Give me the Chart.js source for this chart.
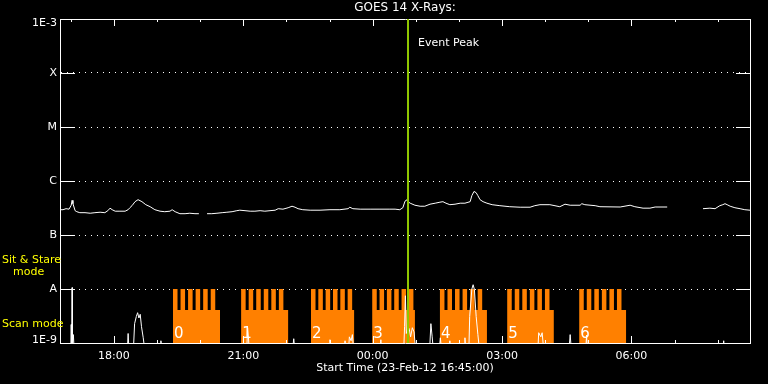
<!DOCTYPE html>
<html>
<head>
<meta charset="utf-8">
<title>GOES 14 X-Rays</title>
<script src="https://cdn.jsdelivr.net/npm/chart.js@4.4.1/dist/chart.umd.min.js"></script>
<style>
  html, body { margin: 0; padding: 0; background: #000; }
  #wrap { width: 768px; height: 384px; }
</style>
</head>
<body>
<div id="wrap"><canvas id="goes-chart" width="768" height="384"></canvas></div>
<script>
// GOES 14 X-ray flux with the scan / sit & stare blocks underneath

// Time is in hours from 00:00 on 23-Feb-12 (values over 24 are on 24-Feb)
const timeMin = 16.75;
const timeMax = 32.75;

// Axis ticks
const xTickHours = [18, 21, 24, 27, 30];
const xMinorHours = [17, 19, 20, 22, 23, 25, 26, 28, 29, 31, 32];
const yTickValues = [1e-9, 1e-8, 1e-7, 1e-6, 1e-5, 1e-4, 1e-3];
const yTickLabels = ['1E-9', 'A', 'B', 'C', 'M', 'X', '1E-3'];

// Long channel (upper white curve), null marks a data gap
const goesTime = [
    16.75, 16.82, 16.89, 16.96, 17.01, 17.03, 17.05, 17.10, 17.14, 17.21,
    17.33, 17.45, 17.56, 17.68, 17.79, 17.86, 17.91, 17.96, 18.03, 18.14,
    18.26, 18.33, 18.37, 18.42, 18.49, 18.56, 18.65, 18.74, 18.84, 18.95,
    19.07, 19.18, 19.30, 19.35, 19.42, 19.53, 19.65, 19.76, 19.88, 19.97,
    20.06, 20.16, 20.27, 20.39, 20.51, 20.62, 20.74, 20.85, 20.92, 21.04,
    21.16, 21.27, 21.39, 21.50, 21.62, 21.74, 21.81, 21.92, 22.04, 22.13,
    22.20, 22.27, 22.38, 22.55, 22.78, 23.01, 23.24, 23.43, 23.47, 23.54,
    23.71, 23.94, 24.17, 24.40, 24.52, 24.63, 24.70, 24.75, 24.80, 24.82,
    24.87, 24.98, 25.10, 25.21, 25.33, 25.45, 25.56, 25.63, 25.70, 25.79,
    25.91, 26.03, 26.14, 26.26, 26.30, 26.35, 26.40, 26.44, 26.49, 26.56,
    26.65, 26.77, 26.95, 27.18, 27.42, 27.65, 27.76, 27.88, 28.11, 28.34,
    28.46, 28.58, 28.81, 28.85, 28.92, 29.16, 29.27, 29.74, 29.97, 30.08,
    30.27, 30.43, 30.55, 30.83, 31.20, 31.66, 31.82, 31.94, 32.05, 32.12,
    32.17, 32.22, 32.29, 32.40, 32.52, 32.63, 32.75
];
const goesFlux = [
    2.94e-7, 2.94e-7, 3.07e-7, 3.01e-7, 3.56e-7, 4.38e-7, 3.80e-7, 2.82e-7, 2.70e-7, 2.59e-7,
    2.59e-7, 2.53e-7, 2.59e-7, 2.64e-7, 2.59e-7, 2.82e-7, 3.14e-7, 2.94e-7, 2.76e-7, 2.76e-7,
    2.76e-7, 2.94e-7, 3.20e-7, 3.49e-7, 4.14e-7, 4.51e-7, 4.14e-7, 3.64e-7, 3.34e-7, 2.94e-7,
    2.76e-7, 2.70e-7, 2.76e-7, 2.94e-7, 2.70e-7, 2.48e-7, 2.48e-7, 2.53e-7, 2.48e-7, 2.48e-7,
    null,    2.48e-7, 2.48e-7, 2.53e-7, 2.59e-7, 2.64e-7, 2.70e-7, 2.82e-7, 2.88e-7, 2.82e-7,
    2.76e-7, 2.76e-7, 2.82e-7, 2.76e-7, 2.82e-7, 2.88e-7, 3.07e-7, 3.01e-7, 3.20e-7, 3.41e-7,
    3.27e-7, 3.07e-7, 2.94e-7, 2.88e-7, 2.88e-7, 2.94e-7, 2.94e-7, 3.07e-7, 3.27e-7, 3.07e-7,
    3.01e-7, 3.01e-7, 3.01e-7, 3.01e-7, 3.01e-7, 2.94e-7, 3.20e-7, 4.23e-7, 4.51e-7, 4.14e-7,
    3.88e-7, 3.56e-7, 3.41e-7, 3.41e-7, 3.72e-7, 3.88e-7, 4.05e-7, 4.14e-7, 3.88e-7, 3.64e-7,
    3.72e-7, 3.88e-7, 3.88e-7, 4.14e-7, 5.35e-7, 6.41e-7, 6.07e-7, 5.35e-7, 4.51e-7, 4.14e-7,
    3.88e-7, 3.64e-7, 3.49e-7, 3.34e-7, 3.27e-7, 3.27e-7, 3.49e-7, 3.64e-7, 3.64e-7, 3.34e-7,
    3.72e-7, 3.56e-7, 3.56e-7, 3.80e-7, 3.64e-7, 3.49e-7, 3.34e-7, 3.30e-7, 3.56e-7, 3.34e-7,
    3.14e-7, 3.14e-7, 3.30e-7, 3.30e-7, null,    3.07e-7, 3.14e-7, 3.07e-7, 3.49e-7, 3.64e-7,
    3.80e-7, 3.64e-7, 3.41e-7, 3.20e-7, 3.07e-7, 2.94e-7, 2.88e-7
];

// Short channel (spiky curve near the floor), mostly below 1E-9
const shortTime = [
    16.75, 17.00, 17.01, 17.02, 17.03, 17.04, 17.06, 17.08, 18.31, 18.33,
    18.35, 18.45, 18.48, 18.52, 18.55, 18.58, 18.61, 18.64, 18.68, 18.72,
    19.07, 19.09, 19.11, 21.08, 21.10, 21.12, 21.14, 22.14, 22.17, 22.20,
    22.99, 23.01, 23.03, 23.33, 23.36, 23.39, 23.44, 23.46, 23.50, 23.53,
    23.56, 24.17, 24.19, 24.21, 24.72, 24.74, 24.76, 24.78, 24.82, 24.85,
    24.88, 24.92, 24.96, 25.00, 25.32, 25.35, 25.38, 25.41, 25.54, 25.57,
    25.60, 25.77, 25.79, 25.81, 26.12, 26.14, 26.16, 26.23, 26.25, 26.30,
    26.33, 26.36, 26.40, 26.44, 26.48, 27.83, 27.85, 27.90, 27.93, 27.97,
    28.55, 28.58, 28.61, 28.94, 28.96, 28.98, 32.12, 32.14, 32.16, 32.75
];
const shortFlux = [
    7e-10,   7e-10,   2.2e-9,  8e-10,   1.06e-8, 9e-10,   1.43e-9, 7e-10,   7e-10,   1.5e-9,
    7e-10,   7e-10,   2.28e-9, 3.1e-9,  3.64e-9, 2.9e-9,  3.4e-9,  2.0e-9,  1.25e-9, 7e-10,
    7e-10,   1.1e-9,  7e-10,   7e-10,   1.92e-9, 1.25e-9, 7e-10,   7e-10,   1.2e-9,  7e-10,
    7e-10,   1.15e-9, 7e-10,   7e-10,   1.1e-9,  7e-10,   7e-10,   1.3e-9,  1.1e-9,  1.43e-9,
    7e-10,   7e-10,   1.15e-9, 7e-10,   7e-10,   2.0e-9,  7.5e-9,  1.5e-9,  2.0e-9,  1.8e-9,
    1.3e-9,  1.92e-9, 1.6e-9,  7e-10,   7e-10,   2.28e-9, 1.3e-9,  7e-10,   7e-10,   1.25e-9,
    7e-10,   7e-10,   1.1e-9,  7e-10,   7e-10,   1.25e-9, 7e-10,   7e-10,   3.1e-9,  1.0e-8,
    1.2e-8,  9.7e-9,  3.1e-9,  1.43e-9, 7e-10,   7e-10,   1.55e-9, 1.3e-9,  1.55e-9, 7e-10,
    7e-10,   1.43e-9, 7e-10,   7e-10,   1.4e-9,  7e-10,   7e-10,   1.1e-9,  7e-10,   7e-10
];

// Scan blocks: start/end of each block and the start of each sit & stare tooth
const scanLabels = ['0', '1', '2', '3', '4', '5', '6'];
const scanStart = [19.37, 20.95, 22.57, 23.99, 25.56, 27.12, 28.79];
const scanEnd = [20.46, 22.04, 23.57, 24.98, 26.65, 28.20, 29.88];
const scanTeeth = [
    [19.37, 19.545, 19.72, 19.895, 20.07, 20.245],
    [20.95, 21.125, 21.30, 21.475, 21.65, 21.825],
    [22.57, 22.74, 22.91, 23.08, 23.25, 23.42],
    [23.99, 24.16, 24.33, 24.50, 24.67, 24.84],
    [25.56, 25.735, 25.91, 26.085, 26.26, 26.435],
    [27.12, 27.295, 27.47, 27.645, 27.82, 27.995],
    [28.79, 28.965, 29.14, 29.315, 29.49, 29.665]
];
const toothLength = 0.105;
const sitStareLevel = 1e-8;
const scanLevel = 4.1e-9;

const eventPeakTime = 24.82;

// Helpers
function toPoints(times, values) {
    return times.map((t, i) => ({ x: t, y: values[i] }));
}

// each point's level holds until the next point (stepped: 'before')
function buildScanPoints() {
    const points = [];
    scanStart.forEach((start, i) => {
        scanTeeth[i].forEach(t => {
            points.push({ x: t, y: sitStareLevel });
            points.push({ x: t + toothLength, y: scanLevel });
        });
        points.push({ x: scanEnd[i], y: 1e-9 });
    });
    return points;
}

function hourLabel(h) {
    return String(h % 24).padStart(2, '0') + ':00';
}

const FONT = '"DejaVu Sans", sans-serif';

// Inward ticks, title and text labels drawn over the plot
const decorPlugin = {
    id: 'decor',
    afterDraw(chart) {
        const ctx = chart.ctx;
        const area = chart.chartArea;
        const xs = chart.scales.x;
        const ys = chart.scales.y;

        ctx.save();
        ctx.strokeStyle = '#ffffff';
        ctx.lineWidth = 1;

        // y ticks pointing in from both sides
        yTickValues.slice(1, -1).forEach(v => {
            const py = Math.round(ys.getPixelForValue(v)) + 0.5;
            ctx.beginPath();
            ctx.moveTo(area.left, py);
            ctx.lineTo(area.left + 15, py);
            ctx.moveTo(area.right - 14, py);
            ctx.lineTo(area.right, py);
            ctx.stroke();
        });

        // time ticks pointing in from top and bottom
        const timeTick = (h, len) => {
            const px = Math.round(xs.getPixelForValue(h)) + 0.5;
            ctx.beginPath();
            ctx.moveTo(px, area.top);
            ctx.lineTo(px, area.top + len);
            ctx.moveTo(px, area.bottom);
            ctx.lineTo(px, area.bottom - len);
            ctx.stroke();
        };
        xTickHours.forEach(h => timeTick(h, 7));
        xMinorHours.forEach(h => timeTick(h, 3));

        // end labels of the y axis sit just inside the frame
        ctx.fillStyle = '#ffffff';
        ctx.font = '11px ' + FONT;
        ctx.textAlign = 'right';
        ctx.textBaseline = 'middle';
        ctx.fillText(yTickLabels[yTickLabels.length - 1], area.left - 3, area.top + 4);
        ctx.fillText(yTickLabels[0], area.left - 3, area.bottom - 3);

        // title
        ctx.font = '12px ' + FONT;
        ctx.textAlign = 'center';
        ctx.fillText('GOES 14 X-Rays:', (area.left + area.right) / 2, 8);

        // event peak label
        ctx.font = '11px ' + FONT;
        ctx.textAlign = 'left';
        ctx.fillText('Event Peak', xs.getPixelForValue(eventPeakTime) + 10, area.top + 24);

        // block numbers
        ctx.font = '15px ' + FONT;
        ctx.textBaseline = 'alphabetic';
        scanLabels.forEach((label, i) => {
            ctx.fillText(label, xs.getPixelForValue(scanStart[i]) + 1, area.bottom - 5);
        });

        // mode labels on the left
        ctx.fillStyle = '#ffff00';
        ctx.font = '11px ' + FONT;
        ctx.textBaseline = 'middle';
        ctx.fillText('Sit & Stare', 2, ys.getPixelForValue(sitStareLevel) - 29);
        ctx.fillText('mode', 13, ys.getPixelForValue(sitStareLevel) - 17);
        ctx.fillText('Scan mode', 2, ys.getPixelForValue(scanLevel) + 14);

        ctx.restore();
    }
};

const goesChart = new Chart(document.getElementById('goes-chart'), {
    type: 'line',
    data: {
        datasets: [
            {
                label: 'Event Peak',
                data: [{ x: eventPeakTime, y: 1e-3 }, { x: eventPeakTime, y: 1e-9 }],
                borderColor: '#90c800',
                borderWidth: 2,
                order: 0
            },
            {
                label: 'GOES short',
                data: toPoints(shortTime, shortFlux),
                borderColor: '#ffffff',
                borderWidth: 1,
                order: 1
            },
            {
                label: 'GOES long',
                data: toPoints(goesTime, goesFlux),
                borderColor: '#ffffff',
                borderWidth: 1,
                spanGaps: false,
                order: 2
            },
            {
                label: 'Scan blocks',
                data: buildScanPoints(),
                borderColor: 'rgba(0,0,0,0)',
                borderWidth: 0,
                backgroundColor: '#ff8000',
                fill: 'start',
                stepped: 'before',
                order: 3
            }
        ]
    },
    options: {
        responsive: false,
        animation: false,
        devicePixelRatio: 1,
        layout: { padding: 0 },
        elements: {
            point: { radius: 0, hoverRadius: 0 },
            line: { tension: 0 }
        },
        plugins: {
            legend: { display: false },
            tooltip: { enabled: false }
        },
        scales: {
            x: {
                type: 'linear',
                position: 'bottom',
                min: timeMin,
                max: timeMax,
                afterBuildTicks: scale => {
                    scale.ticks = xTickHours.map(h => ({ value: h }));
                },
                afterFit: scale => { scale.height = 41; },
                grid: { display: false, drawTicks: false },
                border: { display: true, color: '#ffffff', width: 1 },
                ticks: {
                    color: '#ffffff',
                    font: { family: FONT, size: 11 },
                    padding: 7,
                    maxRotation: 0,
                    autoSkip: false,
                    callback: value => hourLabel(value)
                },
                title: {
                    display: true,
                    text: 'Start Time (23-Feb-12 16:45:00)',
                    color: '#ffffff',
                    font: { family: FONT, size: 11 },
                    padding: { top: 0, bottom: 9 }
                }
            },
            xTop: {
                type: 'linear',
                position: 'top',
                min: timeMin,
                max: timeMax,
                afterFit: scale => { scale.height = 19; },
                grid: { display: false, drawTicks: false },
                border: { display: true, color: '#ffffff', width: 1 },
                ticks: { display: false }
            },
            y: {
                type: 'logarithmic',
                position: 'left',
                min: 1e-9,
                max: 1e-3,
                afterBuildTicks: scale => {
                    scale.ticks = yTickValues.map(v => ({ value: v }));
                },
                afterFit: scale => { scale.width = 60; },
                grid: {
                    display: true,
                    color: '#ffffff',
                    lineWidth: 1,
                    drawTicks: false
                },
                border: { display: true, color: '#ffffff', width: 1, dash: [1, 5] },
                ticks: {
                    color: '#ffffff',
                    font: { family: FONT, size: 11 },
                    padding: 3,
                    autoSkip: false,
                    // the two end labels are drawn by the decor plugin
                    callback: value => {
                        const i = yTickValues.indexOf(value);
                        return (i === 0 || i === yTickValues.length - 1) ? '' : yTickLabels[i];
                    }
                }
            },
            yRight: {
                type: 'logarithmic',
                position: 'right',
                min: 1e-9,
                max: 1e-3,
                afterFit: scale => { scale.width = 18; },
                grid: { display: false, drawTicks: false },
                border: { display: true, color: '#ffffff', width: 1 },
                ticks: { display: false }
            }
        }
    },
    plugins: [decorPlugin]
});
</script>
</body>
</html>
